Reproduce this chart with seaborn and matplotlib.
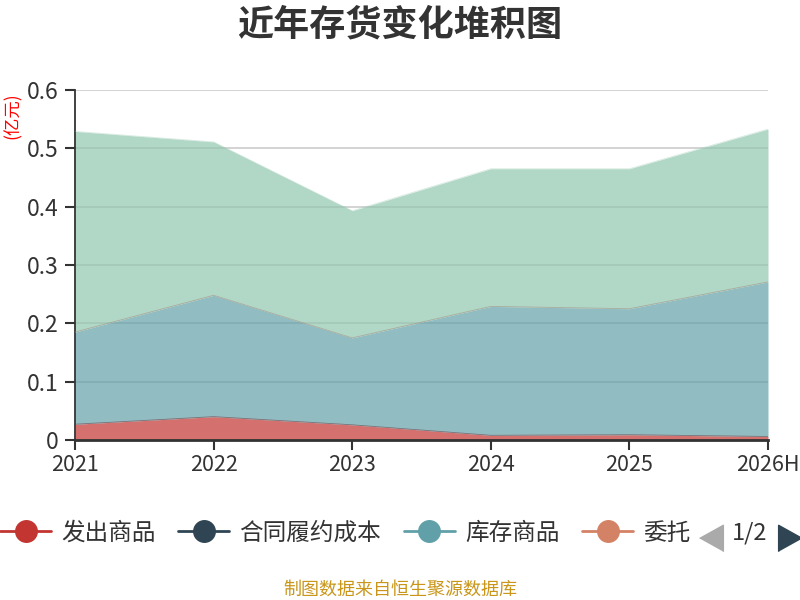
import numpy as np
import pandas as pd
import matplotlib
matplotlib.use('Agg')
import matplotlib.pyplot as plt
from matplotlib.lines import Line2D
import seaborn as sns

# data (亿元)
years = ['2021', '2022', '2023', '2024', '2025', '2026H']
series_names = ['发出商品', '合同履约成本', '库存商品', '委托加工物资', '原材料']
fachu = [0.027, 0.040, 0.026, 0.008, 0.009, 0.006]
hetong = [0.0, 0.0, 0.0, 0.0, 0.0, 0.0]
kucun = [0.158, 0.208, 0.149, 0.221, 0.216, 0.265]
weituo = [0.0, 0.0, 0.0, 0.0, 0.0, 0.0]
yuancailiao = [0.344, 0.263, 0.218, 0.236, 0.240, 0.262]
legend_labels = ['发出商品', '合同履约成本', '库存商品', '委托']

colors = ['#c23531', '#2f4554', '#61a0a8', '#d48265', '#91c7ae']

sns.set_theme(style='white')
plt.rcParams['font.family'] = ['Noto Sans CJK SC', 'DejaVu Sans']

df = pd.DataFrame({'year': years})
for name, vals in zip(series_names, [fachu, hetong, kucun, weituo, yuancailiao]):
    df[name] = vals
df['x'] = np.arange(len(years))

fig = plt.figure(figsize=(8, 6), dpi=100)
ax = fig.add_axes([75 / 800, 1 - 440 / 600, (768 - 75) / 800, 350 / 600])

# stacked areas
base = np.zeros(len(years))
for name, c in zip(series_names, colors):
    top = base + df[name].values
    ax.fill_between(df['x'], base, top, color=c, alpha=0.7, linewidth=0, zorder=2)
    sns.lineplot(x=df['x'], y=top, ax=ax, color=c, linewidth=0.6, alpha=0.35, zorder=3)
    base = top

ax.set_xlim(0, 5)
ax.set_ylim(0, 0.6)
ax.set_yticks([0, 0.1, 0.2, 0.3, 0.4, 0.5, 0.6])
ax.set_yticklabels(['0', '0.1', '0.2', '0.3', '0.4', '0.5', '0.6'])
ax.set_xticks(df['x'])
ax.set_xticklabels(years)
ax.set_xlabel('')
ax.set_ylabel('')
ax.yaxis.grid(True, color='#cccccc', linewidth=1.2, zorder=0)
ax.set_axisbelow(True)
ax.tick_params(axis='both', colors='#333333', length=7, width=1.5, direction='out')
ax.tick_params(axis='y', pad=5, labelsize=16.5)
ax.tick_params(axis='x', pad=3, labelsize=15.5)
ax.tick_params(left=True, bottom=True)
for s in ['top', 'right']:
    ax.spines[s].set_visible(False)
ax.spines['left'].set_color('#333333')
ax.spines['left'].set_linewidth(1.3)
ax.spines['bottom'].set_color('#333333')
ax.spines['bottom'].set_linewidth(2)

# title and unit
fig.text(0.5, 1 - 25 / 600, '近年存货变化堆积图', ha='center', va='center',
         fontsize=26, fontweight='bold', color='#333333')
fig.text(13 / 800, 1 - 116 / 600, '(亿元)', ha='center', va='center', rotation=90,
         fontsize=12.5, color='#ff0000')

# legend (page 1 of 2)
handles = [Line2D([0], [0], color=c, marker='o', markersize=15.5, linewidth=2)
           for c in colors[:4]]
fig.legend(handles, legend_labels, loc='center left', bbox_to_anchor=(0, 1 - 533 / 600),
           ncol=4, frameon=False, fontsize=17, handlelength=2.16, handletextpad=0.42,
           columnspacing=0.97, borderpad=0, borderaxespad=0, labelcolor='#333333')
left_tri = [(-0.45, 0), (0.45, 0.5), (0.45, -0.5)]
right_tri = [(0.45, 0), (-0.45, 0.5), (-0.45, -0.5)]
fig.add_artist(Line2D([711 / 800], [1 - 538 / 600], marker=left_tri, markersize=19,
                      color='#aaaaaa', linestyle='none', transform=fig.transFigure))
fig.add_artist(Line2D([790 / 800], [1 - 538 / 600], marker=right_tri, markersize=19,
                      color='#2f4554', linestyle='none', transform=fig.transFigure))
fig.text(750 / 800, 1 - 533 / 600, '1/2', ha='center', va='center', fontsize=17,
         color='#333333')

fig.text(0.5, 1 - 590 / 600, '制图数据来自恒生聚源数据库', ha='center', va='center',
         fontsize=13, color='#c9961a')

fig.savefig('out.png', dpi=100)
